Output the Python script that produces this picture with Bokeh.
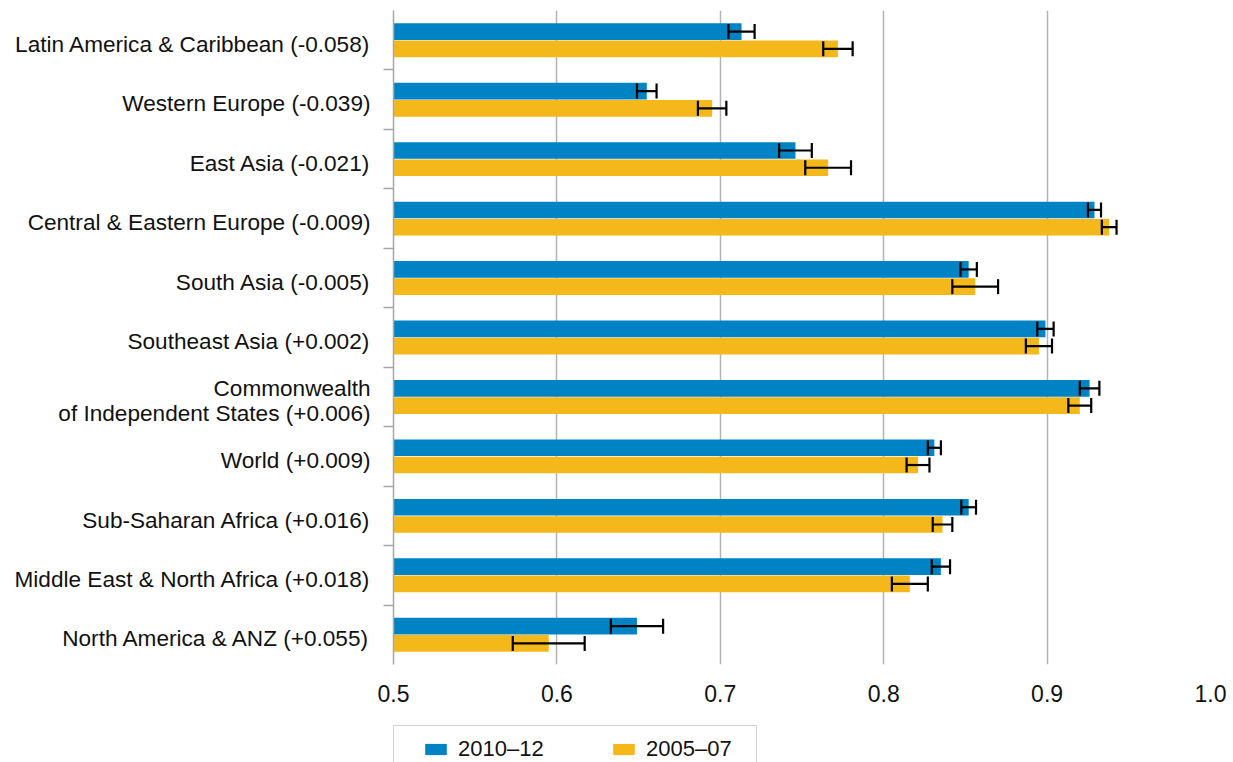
from bokeh.plotting import figure
from bokeh.layouts import column
from bokeh.models import (ColumnDataSource, Range1d, FixedTicker, Whisker, TeeHead,
                          Legend, LegendItem)
from bokeh.embed import file_html
from bokeh.resources import INLINE

regions = [
    "Latin America & Caribbean (-0.058)",
    "Western Europe (-0.039)",
    "East Asia (-0.021)",
    "Central & Eastern Europe (-0.009)",
    "South Asia (-0.005)",
    "Southeast Asia (+0.002)",
    "Commonwealth\nof Independent States (+0.006)",
    "World (+0.009)",
    "Sub-Saharan Africa (+0.016)",
    "Middle East & North Africa (+0.018)",
    "North America & ANZ (+0.055)",
]
v2010 = [0.713, 0.655, 0.746, 0.929, 0.852, 0.899, 0.926, 0.831, 0.852, 0.835, 0.649]
e2010 = [0.008, 0.006, 0.010, 0.004, 0.005, 0.005, 0.006, 0.004, 0.0045, 0.0056, 0.016]
v2005 = [0.772, 0.695, 0.766, 0.938, 0.856, 0.895, 0.920, 0.821, 0.836, 0.816, 0.595]
e2005 = [0.009, 0.0087, 0.014, 0.0045, 0.014, 0.008, 0.007, 0.007, 0.006, 0.011, 0.022]
x_ticks = [0.5, 0.6, 0.7, 0.8, 0.9, 1.0]
x_labels = ["0.5", "0.6", "0.7", "0.8", "0.9", "1.0"]
series_names = ["2010\u201312", "2005\u201307"]

BLUE = "#0083C4"
ORANGE = "#F5B81B"
FONT = "Liberation Sans"

n = len(regions)
centers = [n - i - 0.5 for i in range(n)]
label_pos = [c - 0.07 for c in centers]
off = 0.145
hgt = 0.28

src10 = ColumnDataSource(dict(y=[c + off for c in centers], v=v2010,
                              lo=[a - b for a, b in zip(v2010, e2010)],
                              hi=[a + b for a, b in zip(v2010, e2010)]))
src05 = ColumnDataSource(dict(y=[c - off for c in centers], v=v2005,
                              lo=[a - b for a, b in zip(v2005, e2005)],
                              hi=[a + b for a, b in zip(v2005, e2005)]))

p = figure(width=1233, height=718, output_backend="svg", toolbar_location=None,
           x_range=Range1d(0.5, 1.0), y_range=Range1d(0, n),
           min_border_left=393, min_border_right=23, min_border_top=10, min_border_bottom=54)
p.outline_line_color = None
p.background_fill_color = "white"
p.border_fill_color = "white"

r10 = p.hbar(y="y", left=0.5, right="v", height=hgt, source=src10, fill_color=BLUE,
             line_color=None)
r05 = p.hbar(y="y", left=0.5, right="v", height=hgt, source=src05, fill_color=ORANGE,
             line_color=None)

for s in (src10, src05):
    w = Whisker(source=s, base="y", lower="lo", upper="hi", dimension="width",
                line_color="black", line_width=2.2, level="annotation",
                lower_head=TeeHead(size=15, line_color="black", line_width=2.2),
                upper_head=TeeHead(size=15, line_color="black", line_width=2.2))
    p.add_layout(w)

# x axis
p.xaxis.ticker = FixedTicker(ticks=x_ticks)
p.xaxis.major_label_overrides = {t: l for t, l in zip(x_ticks, x_labels)}
p.xaxis.axis_line_color = None
p.xaxis.major_tick_line_color = None
p.xaxis.minor_tick_line_color = None
p.xaxis.major_label_text_font = FONT
p.xaxis.major_label_text_font_size = "23px"
p.xaxis.major_label_text_color = "#111111"
p.xaxis.major_label_standoff = 14

p.xgrid.ticker = FixedTicker(ticks=x_ticks[1:])
p.xgrid.grid_line_color = "#b3b3b3"
p.xgrid.grid_line_width = 1.5
p.ygrid.grid_line_color = None

# y axis
p.yaxis.ticker = FixedTicker(ticks=label_pos, minor_ticks=list(range(1, n)))
p.yaxis.major_label_overrides = {c: r for c, r in zip(label_pos, regions)}
p.yaxis.axis_line_color = "#a6a6a6"
p.yaxis.axis_line_width = 1.5
p.yaxis.major_tick_line_color = None
p.yaxis.major_tick_out = 0
p.yaxis.major_tick_in = 0
p.yaxis.minor_tick_line_color = "#a6a6a6"
p.yaxis.minor_tick_line_width = 1.5
p.yaxis.minor_tick_out = 10
p.yaxis.minor_tick_in = 0
p.yaxis.major_label_text_font = FONT
p.yaxis.major_label_text_font_size = "22.6px"
p.yaxis.major_label_text_color = "#111111"
p.yaxis.major_label_standoff = 13
p.yaxis.major_label_text_align = "right"
p.yaxis.major_label_text_line_height = 1.0

# legend strip below the chart (its bars fall outside its ranges, only swatches show)
p2 = figure(width=1233, height=44, output_backend="svg", toolbar_location=None,
            x_range=Range1d(0, 0.1), y_range=Range1d(100, 101),
            x_axis_type=None, y_axis_type=None,
            min_border_left=0, min_border_right=0, min_border_top=0, min_border_bottom=0)
p2.outline_line_color = None
p2.grid.visible = False
p2.background_fill_color = "white"
p2.border_fill_color = "white"
d10 = p2.hbar(y="y", left=0.5, right="v", height=hgt, source=src10, fill_color=BLUE,
              line_color=None)
d05 = p2.hbar(y="y", left=0.5, right="v", height=hgt, source=src05, fill_color=ORANGE,
              line_color=None)

lg = Legend(items=[LegendItem(label=series_names[0], renderers=[d10]),
                   LegendItem(label=series_names[1], renderers=[d05])],
            orientation="horizontal", location=(0, -11))
lg.border_line_color = "#a6a6a6"
lg.border_line_width = 1.5
lg.background_fill_color = "white"
lg.background_fill_alpha = 1.0
lg.padding = 10
lg.spacing = 52
lg.label_standoff = 9
lg.label_width = 100
lg.glyph_width = 27
lg.glyph_height = 14
lg.label_text_font = FONT
lg.label_text_font_size = "22px"
lg.label_text_color = "#111111"
lg.title = " "
lg.title_location = "left"
lg.title_text_font_size = "12px"
lg.title_standoff = 4
lg.margin = 0
p2.add_layout(lg, "center")

layout = column(p, p2, spacing=0)
open("out.html", "w").write(file_html(layout, INLINE))
